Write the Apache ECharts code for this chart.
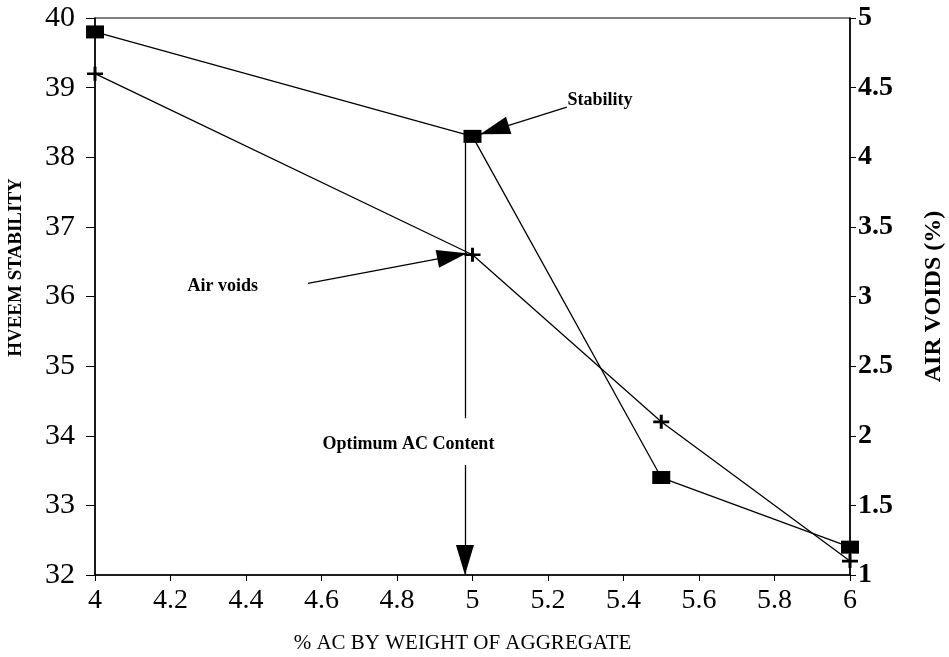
<!DOCTYPE html>
<html>
<head>
<meta charset="utf-8">
<script src="https://cdn.jsdelivr.net/npm/echarts@6/dist/echarts.min.js"></script>
<style>
  html, body { margin: 0; padding: 0; background: #fff; }
  #main { width: 949px; height: 657px; }
</style>
</head>
<body>
<div id="main"></div>
<script>
// data
const acContent = [4, 5, 5.5, 6]
const stability = [39.8, 38.3, 33.4, 32.4]   // left axis
const airVoids = [4.6, 3.3, 2.1, 1.1]        // right axis (%)

const FONT = 'Liberation Serif'
const plusPath = 'path://M6.5,0H9.5V6.5H16V9.5H9.5V16H6.5V9.5H0V6.5H6.5Z'

const chart = echarts.init(document.getElementById('main'))

// annotation arrows, in data coords (left axis)
const arrowEnd = (x, y) => ({ coord: [x, y], symbol: 'triangle', symbolSize: [18, 30], symbolOffset: [0, 15] })
const plain = (x, y) => ({ coord: [x, y], symbol: 'none' })

// text notes
const note = (name, x, y) => ({
  name: name,
  coord: [x, y],
  symbol: 'circle',
  symbolSize: 1,
  itemStyle: { color: 'rgba(0,0,0,0)' },
  label: { show: true, position: 'right', distance: 0, formatter: '{b}',
    color: '#000', fontFamily: FONT, fontSize: 18, fontWeight: 'bold' }
})

const option = {
  animation: false,
  backgroundColor: '#fff',
  grid: { left: 95, right: 99, top: 18, bottom: 82, show: true, borderColor: '#000', borderWidth: 1.2,
    outerBoundsMode: 'none', containLabel: false },
  xAxis: {
    type: 'value', min: 4, max: 6, interval: 0.2,
    name: '% AC BY WEIGHT OF AGGREGATE',
    nameLocation: 'middle', nameGap: 58,
    nameTextStyle: { fontFamily: FONT, fontSize: 21, color: '#000', padding: [0, 20, 0, 0] },
    axisLine: { lineStyle: { color: '#000', width: 1.5 } },
    axisTick: { length: 6, lineStyle: { color: '#000' } },
    axisLabel: { margin: 12, fontFamily: FONT, fontSize: 28, color: '#000',
      formatter: v => +v.toFixed(1) + '' },
    splitLine: { show: false }
  },
  yAxis: [
    {
      type: 'value', min: 32, max: 40, interval: 1,
      name: 'HVEEM STABILITY',
      nameLocation: 'middle', nameGap: 69,
      nameTextStyle: { fontFamily: FONT, fontSize: 19, fontWeight: 'bold', color: '#000', padding: [0, 0, 0, 58] },
      axisLine: { show: true, lineStyle: { color: '#000', width: 1.5 } },
      axisTick: { show: true, length: 9, lineStyle: { color: '#000' } },
      axisLabel: { margin: 20, fontFamily: FONT, fontSize: 30, color: '#000' },
      splitLine: { show: false }
    },
    {
      type: 'value', min: 1, max: 5, interval: 0.5,
      name: 'AIR VOIDS (%)',
      nameLocation: 'middle', nameGap: 72,
      nameTextStyle: { fontFamily: FONT, fontSize: 24, fontWeight: 'bold', color: '#000', padding: [0, 0, 6, 0] },
      axisLine: { show: true, lineStyle: { color: '#000', width: 1.5 } },
      axisTick: { show: true, length: 6, lineStyle: { color: '#000' } },
      axisLabel: { margin: 8, fontFamily: FONT, fontSize: 28, fontWeight: 'bold', color: '#000' },
      splitLine: { show: false }
    }
  ],
  series: [
    {
      name: 'Stability',
      type: 'line',
      yAxisIndex: 0,
      data: acContent.map((x, i) => [x, stability[i]]),
      symbol: 'rect',
      symbolSize: [18, 13],
      color: '#000',
      itemStyle: { color: '#000' },
      lineStyle: { color: '#000', width: 1.3 },
      z: 3,
      markLine: {
        silent: true,
        animation: false,
        lineStyle: { color: '#000', width: 1.3, type: 'solid' },
        label: { show: false },
        data: [
          [plain(5.25, 38.72), arrowEnd(5.02, 38.33)],
          [plain(4.564, 36.19), arrowEnd(4.985, 36.62)],
          [plain(4.98, 38.3), plain(4.98, 34.25)],
          [plain(4.98, 33.58), arrowEnd(4.98, 32)]
        ]
      },
      markPoint: {
        silent: true,
        animation: false,
        data: [
          note('Stability', 5.25, 38.82),
          note('Air voids', 4.244, 36.14),
          note('Optimum AC Content', 4.601, 33.87)
        ]
      }
    },
    {
      name: 'Air voids',
      type: 'line',
      yAxisIndex: 1,
      data: acContent.map((x, i) => [x, airVoids[i]]),
      symbol: plusPath,
      symbolSize: [16, 14],
      itemStyle: { color: '#000' },
      lineStyle: { color: '#000', width: 1.3 },
      z: 3
    }
  ]
}

chart.setOption(option)
</script>
</body>
</html>
